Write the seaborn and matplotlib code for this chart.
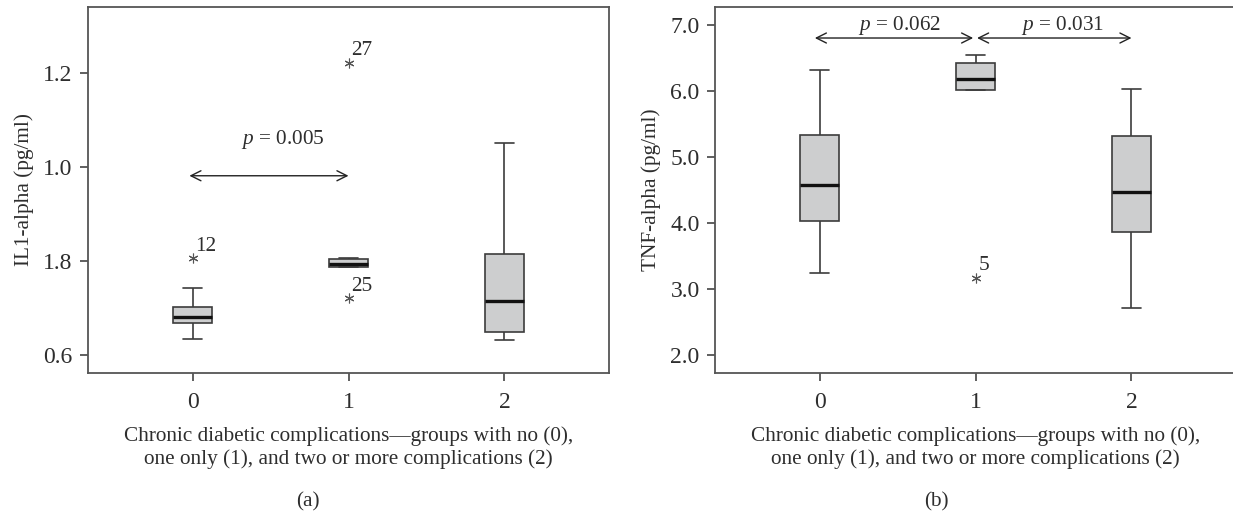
import numpy as np
import pandas as pd
import matplotlib
matplotlib.use("Agg")
import matplotlib.pyplot as plt
import seaborn as sns

sns.set_theme(style="ticks")
plt.rcParams["font.family"] = ["Liberation Serif", "DejaVu Serif"]
plt.rcParams["mathtext.fontset"] = "custom"
plt.rcParams["mathtext.rm"] = "Liberation Serif"
plt.rcParams["mathtext.it"] = "Liberation Serif:italic"

# ---- data -------------------------------------------------------------
groups = ["0", "1", "2"]

# Panel (a): IL1-alpha (pg/ml), five-number summaries per group
a_whisker_low = [0.635, 0.788, 0.633]
a_q1 = [0.669, 0.788, 0.650]
a_median = [0.681, 0.794, 0.716]
a_q3 = [0.703, 0.805, 0.816]
a_whisker_high = [0.744, 0.807, 1.052]
a_outliers = [[0.806], [0.721, 1.222], []]
a_outlier_ids = [["12"], ["25", "27"], []]
a_yticks = [0.6, 0.8, 1.0, 1.2]
a_ytick_labels = ["0.6", "1.8", "1.0", "1.2"]

# Panel (b): TNF-alpha (pg/ml)
b_whisker_low = [3.253, 6.021, 2.723]
b_q1 = [4.030, 6.021, 3.864]
b_median = [4.576, 6.182, 4.480]
b_q3 = [5.333, 6.435, 5.318]
b_whisker_high = [6.329, 6.556, 6.030]
b_outliers = [[], [3.173], []]
b_outlier_ids = [[], ["5"], []]
b_yticks = [2.0, 3.0, 4.0, 5.0, 6.0, 7.0]
b_ytick_labels = ["2.0", "3.0", "4.0", "5.0", "6.0", "7.0"]

# significance brackets: (x_start, x_end, y, label, label_x, label_y)
a_brackets = [(-0.02, 1.0, 0.982, "0.005", 0.58, 1.06)]
b_brackets = [(-0.03, 0.985, 6.81, "0.062", 0.51, 7.0),
              (1.01, 2.0, 6.81, "0.031", 1.555, 7.0)]

xlabel = ("Chronic diabetic complications\u2014groups with no (0),\n"
          "one only (1), and two or more complications (2)")


def summary_sample(lo, q1, med, q3, hi, outs):
    """Sample whose quartiles and whiskers reproduce a five-number summary."""
    if not outs:
        return [lo, q1, med, q3, hi]
    lows = [v for v in outs if v < q1]
    highs = [v for v in outs if v > q3]
    below = (lows + [lo, lo])[:2]
    above = ([hi] + highs + [hi])[:2]
    return below + [q1, med, med, q3, q3] + above


def build_frame(lo, q1, med, q3, hi, outs):
    rows = []
    for g, a, b, c, d, e, o in zip(groups, lo, q1, med, q3, hi, outs):
        for v in summary_sample(a, b, c, d, e, o):
            rows.append({"group": g, "value": v})
    return pd.DataFrame(rows)


df_a = build_frame(a_whisker_low, a_q1, a_median, a_q3, a_whisker_high, a_outliers)
df_b = build_frame(b_whisker_low, b_q1, b_median, b_q3, b_whisker_high, b_outliers)

# ---- styling ---------------------------------------------------------
edge = "#3c3c3c"
fill = "#cdcecf"
txt = "#2e2e2e"
fs = 15.3
tick_fs = 17

W, H = 1233, 513
fig = plt.figure(figsize=(W / 100, H / 100), dpi=100)
ax_a = fig.add_axes([88 / W, (H - 373) / H, 521 / W, 366 / H])
ax_b = fig.add_axes([715 / W, (H - 373) / H, 521 / W, 366 / H])


def draw_panel(ax, df, outs, ids, yticks, ylabels, ylim, ylabel, brackets,
               tag, tag_x):
    sns.boxplot(data=df, x="group", y="value", order=groups, ax=ax,
                width=0.25, color=fill, saturation=1, linecolor=edge,
                linewidth=1.2, whis=1.5,
                medianprops=dict(color="#111111", linewidth=2.4),
                flierprops=dict(marker=(6, 2, 0), markersize=7,
                                markeredgecolor="#555555",
                                markeredgewidth=0.8))
    for i, (vals, labs) in enumerate(zip(outs, ids)):
        for v, t in zip(vals, labs):
            ax.annotate(t, (i, v), xytext=(2, 2), textcoords="offset points",
                        ha="left", va="bottom", fontsize=fs, color=txt)
    for x0, x1, y, lab, lx, ly in brackets:
        ax.annotate("", xy=(x1, y), xytext=(x0, y),
                    arrowprops=dict(arrowstyle="<->,head_length=0.6,head_width=0.3",
                                    color="#222222", lw=1.0,
                                    shrinkA=0, shrinkB=0))
        ax.text(lx, ly, r"$\it{p}$" + " = " + lab, ha="center", va="center",
                fontsize=fs, color=txt)
    ax.set_xlim(-0.67, 2.67)
    ax.set_ylim(*ylim)
    ax.set_yticks(yticks)
    ax.set_yticklabels(ylabels)
    ax.set_xlabel(xlabel, fontsize=fs, color=txt, labelpad=9,
                  linespacing=1.25)
    ax.set_ylabel(ylabel, fontsize=fs, color=txt, labelpad=7)
    ax.tick_params(axis="both", direction="out", length=6, width=1.2,
                   colors="#444444", labelsize=tick_fs, labelcolor=txt, pad=5)
    ax.tick_params(axis="x", pad=8)
    for s in ax.spines.values():
        s.set_visible(True)
        s.set_color("#555555")
        s.set_linewidth(1.3)
    fig.text(tag_x / W, (H - 502) / H, tag, ha="center", va="center",
             fontsize=fs, color=txt)


draw_panel(ax_a, df_a, a_outliers, a_outlier_ids, a_yticks, a_ytick_labels,
           (0.5624, 1.341), "IL1-alpha (pg/ml)", a_brackets, "(a)", 308)
draw_panel(ax_b, df_b, b_outliers, b_outlier_ids, b_yticks, b_ytick_labels,
           (1.733, 7.28), "TNF-alpha (pg/ml)", b_brackets, "(b)", 936)

fig.savefig("out.png", dpi=100)
